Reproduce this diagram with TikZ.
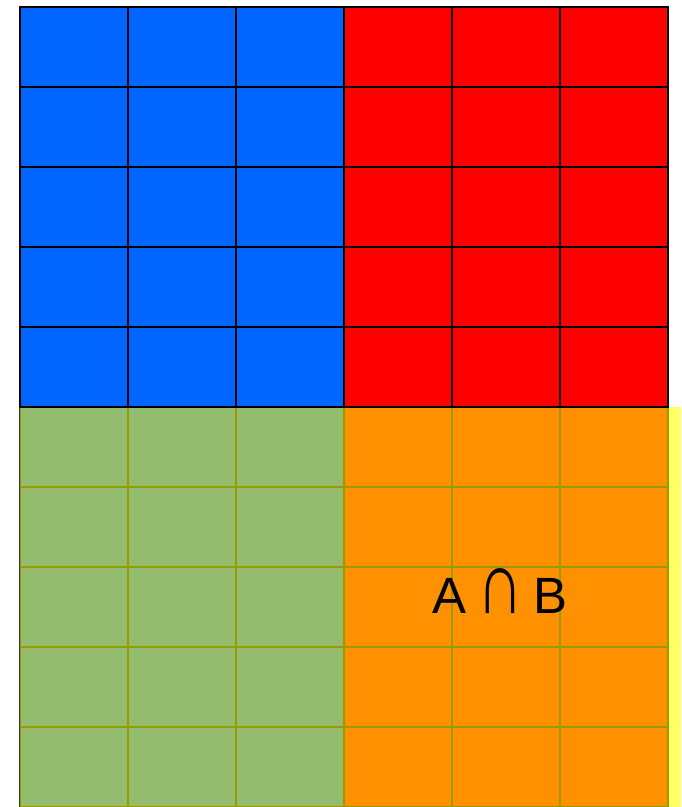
\documentclass[tikz,border=0pt]{standalone}
\usepackage{fontspec}
\setmainfont{Liberation Sans}
\definecolor{setblue}{HTML}{0066FF}
\definecolor{setred}{HTML}{FF0000}
\definecolor{setgreen}{HTML}{93BC6E}
\definecolor{setorange}{HTML}{FF9000}
\definecolor{setyellow}{HTML}{FFFF66}
\definecolor{setolive}{HTML}{999900}
\tikzset{
  blackgrid/.style={draw=black, line width=2pt},
  olivegrid/.style={draw=setolive, line width=2.2pt},
}

\begin{document}
\begin{tikzpicture}[x=1pt, y=-1pt]
    \useasboundingbox (0,0) rectangle (681,807);
    % blocos de cor
    \fill[setblue] (20,7) rectangle (344,407);
    \fill[setred] (344,7) rectangle (668,407);
    \fill[setgreen] (20,407) rectangle (344,807);
    \fill[setorange] (344,407) rectangle (668,807);
    \fill[setyellow] (669,407) rectangle (681,807);
    % grade de baixo
    \foreach \x in {20,128,...,668} {
      \draw[olivegrid] (\x,407) -- (\x,807);
    }
    \foreach \y in {487,567,...,807} {
      \draw[olivegrid] (20,\y) -- (668,\y);
    }
    \draw[black!80, line width=1.2pt] (19.4,407) -- (19.4,807);
    % grade de cima
    \foreach \x in {20,128,...,668} {
      \draw[blackgrid] (\x,7) -- (\x,407);
    }
    \foreach \y in {7,87,...,407} {
      \draw[blackgrid] (19,\y) -- (669,\y);
    }
    % intersecao
    \node[anchor=base, inner sep=0pt, font=\fontsize{51}{60}\selectfont]
      (inter) at (500,613) {A\hspace{0.2em}\scalebox{1.25}[1.75]{∩}\hspace{0.2em}B};
  \end{tikzpicture}
\end{document}
